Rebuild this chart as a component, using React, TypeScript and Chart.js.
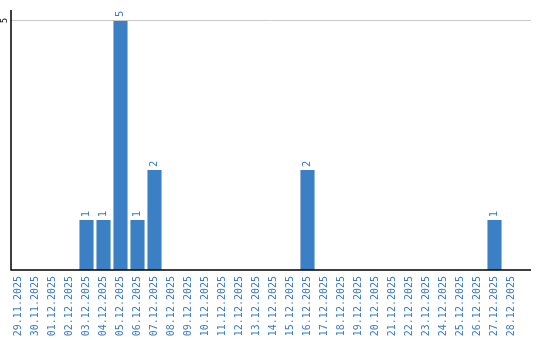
import React, { useEffect, useRef } from "react";
import { Chart, registerables } from "chart.js";

Chart.register(...registerables);

const dates = [
  "29.11.2025", "30.11.2025", "01.12.2025", "02.12.2025", "03.12.2025", "04.12.2025",
  "05.12.2025", "06.12.2025", "07.12.2025", "08.12.2025", "09.12.2025", "10.12.2025",
  "11.12.2025", "12.12.2025", "13.12.2025", "14.12.2025", "15.12.2025", "16.12.2025",
  "17.12.2025", "18.12.2025", "19.12.2025", "20.12.2025", "21.12.2025", "22.12.2025",
  "23.12.2025", "24.12.2025", "25.12.2025", "26.12.2025", "27.12.2025", "28.12.2025",
];
const counts = [0, 0, 0, 0, 1, 1, 5, 1, 2, 0, 0, 0, 0, 0, 0, 0, 0, 2, 0, 0, 0, 0, 0, 0, 0, 0, 0, 0, 1, 0];
const yTicks = [5];

const BAR = "#3b7fc4";
const TXT = "#3a7bc4";

const extrasPlugin = {
  id: "extras",
  afterDraw(chart: any) {
    const ctx = chart.ctx;
    const area = chart.chartArea;
    const y = chart.scales.y;
    const rightEnd = area.right + 11;
    ctx.save();
    for (const v of yTicks) {
      const py = Math.round(y.getPixelForValue(v)) + 0.5;
      ctx.strokeStyle = "#c8c8c8";
      ctx.lineWidth = 1;
      ctx.beginPath();
      ctx.moveTo(area.left, py);
      ctx.lineTo(rightEnd, py);
      ctx.stroke();
      ctx.save();
      ctx.translate(5, py);
      ctx.rotate(-Math.PI / 2);
      ctx.fillStyle = "#000";
      ctx.font = "8px 'DejaVu Sans'";
      ctx.textAlign = "center";
      ctx.textBaseline = "middle";
      ctx.fillText(String(v), 0, 0);
      ctx.restore();
    }
    ctx.strokeStyle = "#000";
    ctx.lineWidth = 1.5;
    ctx.beginPath();
    ctx.moveTo(area.left + 1, area.top);
    ctx.lineTo(area.left + 1, area.bottom);
    ctx.lineTo(rightEnd, area.bottom);
    ctx.stroke();
    const meta = chart.getDatasetMeta(0);
    ctx.fillStyle = TXT;
    ctx.font = "10px 'DejaVu Sans'";
    meta.data.forEach((bar: any, i: number) => {
      const v = counts[i];
      if (!v) return;
      ctx.save();
      ctx.translate(bar.x, bar.y - 3);
      ctx.rotate(-Math.PI / 2);
      ctx.textAlign = "left";
      ctx.textBaseline = "middle";
      ctx.fillText(String(v), 0, 0);
      ctx.restore();
    });
    ctx.restore();
  },
};

export default function App() {
  const ref = useRef<HTMLCanvasElement>(null);
  useEffect(() => {
    document.body.style.margin = "0";
    const chart = new Chart(ref.current!, {
      type: "bar",
      data: {
        labels: dates,
        datasets: [
          {
            data: counts,
            backgroundColor: BAR,
            borderWidth: 0,
            barPercentage: 0.83,
            categoryPercentage: 1,
          },
        ],
      },
      options: {
        animation: false,
        responsive: false,
        layout: { padding: { left: 10, top: 10, right: 20, bottom: 0 } },
        plugins: { legend: { display: false }, tooltip: { enabled: false } },
        scales: {
          x: {
            grid: { display: false, drawTicks: false },
            border: { display: false },
            afterFit: (s: any) => {
              s.height = 70;
            },
            ticks: {
              minRotation: 90,
              maxRotation: 90,
              autoSkip: false,
              padding: 6,
              color: TXT,
              font: { family: "'DejaVu Sans Mono'", size: 10 },
            },
          },
          y: {
            min: 0,
            max: 5.2,
            afterFit: (s: any) => {
              s.width = 0;
            },
            ticks: { display: false },
            grid: { display: false, drawTicks: false },
            border: { display: false },
          },
        },
      },
      plugins: [extrasPlugin],
    });
    return () => chart.destroy();
  }, []);
  return (
    <div style={{ width: 540, height: 340 }}>
      <canvas ref={ref} width={540} height={340} />
    </div>
  );
}
